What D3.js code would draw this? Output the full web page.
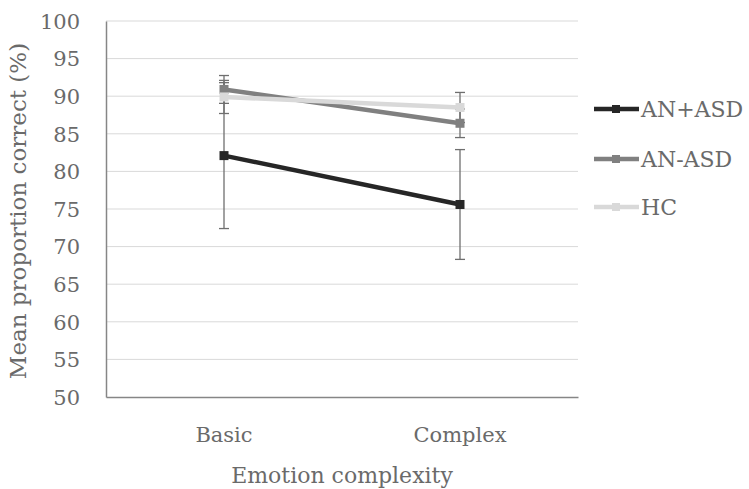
<!DOCTYPE html>
<html>
<head>
<meta charset="utf-8">
<script src="https://cdn.jsdelivr.net/npm/d3@7"></script>
<style>
  body { margin: 0; background: #fff; }
  svg text { font-family: "DejaVu Serif", "Liberation Serif", serif; fill: #6a6a6a; }
</style>
</head>
<body>
<div id="chart"></div>
<script>
const categories = ['Basic', 'Complex'];
const seriesNames = ['AN+ASD', 'AN-ASD', 'HC'];
const anAsdPlus = [82.1, 75.6];
const anAsdPlusErr = [9.7, 7.3];
const anAsdMinus = [90.9, 86.4];
const anAsdMinusErr = [1.85, 1.9];
const hc = [89.9, 88.5];
const hcErr = [2.2, 2.0];
const yTicks = [50, 55, 60, 65, 70, 75, 80, 85, 90, 95, 100];

const seriesColors = ['#262626', '#808080', '#d9d9d9'];

const width = 749;
const height = 489;
const plot = {left: 106, right: 578, top: 21, bottom: 397};

const series = [
  {name: seriesNames[0], values: anAsdPlus, errs: anAsdPlusErr, color: seriesColors[0]},
  {name: seriesNames[1], values: anAsdMinus, errs: anAsdMinusErr, color: seriesColors[1]},
  {name: seriesNames[2], values: hc, errs: hcErr, color: seriesColors[2]}
];

const svg = d3.select('#chart')
  .append('svg')
  .attr('width', width)
  .attr('height', height);

const xScale = d3.scaleBand().domain(categories).range([plot.left, plot.right]);
const yScale = d3.scaleLinear().domain([50, 100]).range([plot.bottom, plot.top]);
const xPos = (c) => xScale(c) + xScale.bandwidth() / 2;

// gridlines
svg.append('g')
  .selectAll('line')
  .data(yTicks.slice(1))
  .enter()
  .append('line')
  .attr('x1', plot.left)
  .attr('x2', plot.right)
  .attr('y1', (d) => yScale(d))
  .attr('y2', (d) => yScale(d))
  .attr('stroke', '#d9d9d9')
  .attr('stroke-width', 1);

// axes
const yAxis = d3.axisLeft(yScale).tickValues(yTicks).tickSize(0).tickPadding(26);
const yG = svg.append('g')
  .attr('transform', 'translate(' + plot.left + ',0)')
  .call(yAxis);
yG.select('.domain').attr('stroke', '#868686').attr('stroke-width', 1.5);
yG.selectAll('text').style('font-size', '21px').attr('dy', '0.35em');

const xAxis = d3.axisBottom(xScale).tickSize(0).tickPadding(30);
const xG = svg.append('g')
  .attr('transform', 'translate(0,' + plot.bottom + ')')
  .call(xAxis);
xG.select('.domain').attr('stroke', '#868686').attr('stroke-width', 1.5);
xG.selectAll('text').style('font-size', '21px');

// axis titles
svg.append('text')
  .attr('x', (plot.left + plot.right) / 2)
  .attr('y', 483)
  .attr('text-anchor', 'middle')
  .style('font-size', '22px')
  .text('Emotion complexity');

svg.append('text')
  .attr('transform', 'translate(26,' + ((plot.top + plot.bottom) / 2 + 2) + ') rotate(-90)')
  .attr('text-anchor', 'middle')
  .style('font-size', '23px')
  .text('Mean proportion correct (%)');

// error bars
const errG = svg.append('g');
series.forEach((s) => {
  categories.forEach((c, i) => {
    const x = xPos(c);
    const top = yScale(s.values[i] + s.errs[i]);
    const bottom = yScale(s.values[i] - s.errs[i]);
    errG.append('line')
      .attr('x1', x).attr('x2', x).attr('y1', top).attr('y2', bottom)
      .attr('stroke', '#6f6f6f').attr('stroke-width', 1.3);
    [top, bottom].forEach((y) => {
      errG.append('line')
        .attr('x1', x - 5).attr('x2', x + 5).attr('y1', y).attr('y2', y)
        .attr('stroke', '#6f6f6f').attr('stroke-width', 1.3);
    });
  });
});

// lines and markers
const line = d3.line()
  .x((d, i) => xPos(categories[i]))
  .y((d) => yScale(d));

series.forEach((s) => {
  svg.append('path')
    .datum(s.values)
    .attr('d', line)
    .attr('fill', 'none')
    .attr('stroke', s.color)
    .attr('stroke-width', 4.5);

  svg.append('g')
    .selectAll('rect')
    .data(s.values)
    .enter()
    .append('rect')
    .attr('x', (d, i) => xPos(categories[i]) - 4.5)
    .attr('y', (d) => yScale(d) - 4.5)
    .attr('width', 9)
    .attr('height', 9)
    .attr('fill', s.color);
});

// legend
const legendY = [109, 159, 207];
const legend = svg.append('g');
series.forEach((s, i) => {
  const y = legendY[i];
  legend.append('line')
    .attr('x1', 594).attr('x2', 639).attr('y1', y).attr('y2', y)
    .attr('stroke', s.color).attr('stroke-width', 4.5);
  legend.append('rect')
    .attr('x', 612).attr('y', y - 4).attr('width', 8).attr('height', 8)
    .attr('fill', s.color);
  legend.append('text')
    .attr('x', 641)
    .attr('y', y)
    .attr('dy', '0.35em')
    .style('font-size', '22px')
    .text(s.name);
});
</script>
</body>
</html>
